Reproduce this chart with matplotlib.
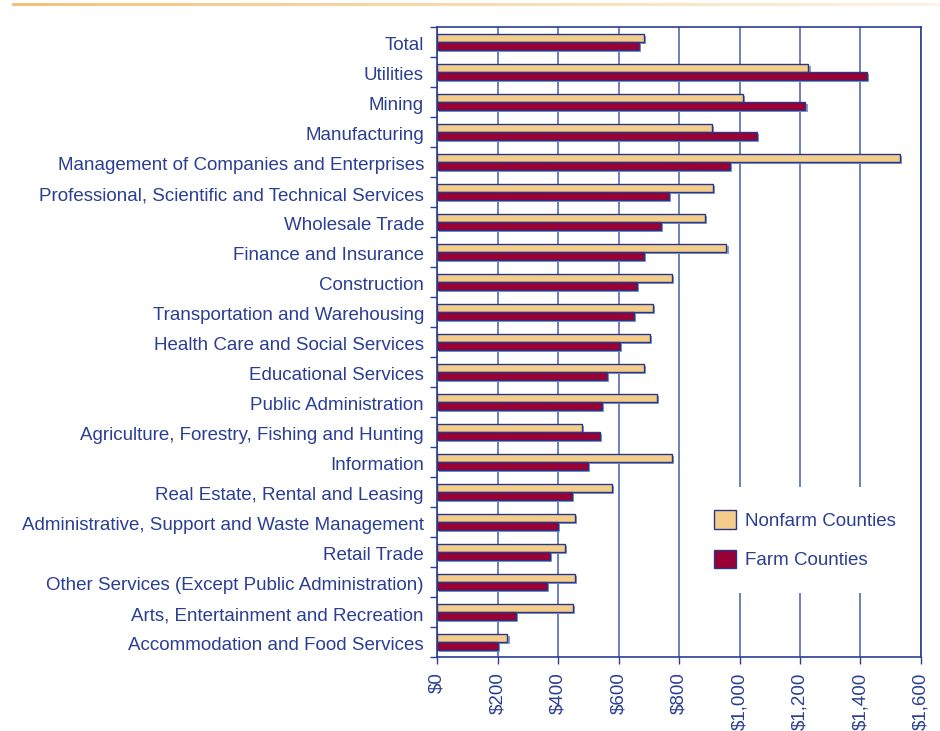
import numpy as np
import matplotlib
matplotlib.use("Agg")
import matplotlib.pyplot as plt
from matplotlib.patches import Patch
from matplotlib.ticker import FuncFormatter, FixedLocator
from matplotlib.colors import LinearSegmentedColormap
from matplotlib.transforms import ScaledTranslation
import matplotlib.patheffects as pe

industries = [
    "Total",
    "Utilities",
    "Mining",
    "Manufacturing",
    "Management of Companies and Enterprises",
    "Professional, Scientific and Technical Services",
    "Wholesale Trade",
    "Finance and Insurance",
    "Construction",
    "Transportation and Warehousing",
    "Health Care and Social Services",
    "Educational Services",
    "Public Administration",
    "Agriculture, Forestry, Fishing and Hunting",
    "Information",
    "Real Estate, Rental and Leasing",
    "Administrative, Support and Waste Management",
    "Retail Trade",
    "Other Services (Except Public Administration)",
    "Arts, Entertainment and Recreation",
    "Accommodation and Food Services",
]
nonfarm = [683, 1228, 1011, 909, 1530, 913, 887, 957, 778, 715, 705,
           683, 728, 479, 778, 578, 455, 422, 455, 450, 233]
farm = [667, 1421, 1218, 1057, 968, 767, 739, 683, 662, 650, 605,
        562, 545, 540, 500, 445, 400, 373, 363, 260, 200]
x_ticks = [0, 200, 400, 600, 800, 1000, 1200, 1400, 1600]

NAVY = "#2a3f92"
EDGE = "#26388a"
GRID = "#6c80bd"
NONFARM_C = "#f4cd8b"
FARM_C = "#990033"

plt.rcParams["font.family"] = ["Liberation Sans", "DejaVu Sans"]
FS = 13.5

fig = plt.figure(figsize=(9.4, 7.31), dpi=100)

# orange rule across the top
rule_ax = fig.add_axes([12 / 940, (731 - 6.2) / 731, 928 / 940, 2.8 / 731])
grad = np.linspace(0, 1, 256).reshape(1, -1)
rule_cmap = LinearSegmentedColormap.from_list("rule", ["#f3c27a", "#f8dcae", "#fdf3e6"])
rule_ax.imshow(grad, aspect="auto", cmap=rule_cmap)
rule_ax.axis("off")

ax = fig.add_axes([437 / 940, 74 / 731, 484 / 940, 630 / 731])
y = np.arange(len(industries))
h = 0.28
shadow = [pe.SimplePatchShadow(offset=(1.5, -1.5), shadow_rgbFace="#8d9cc9", alpha=1), pe.Normal()]
b1 = ax.barh(y - 0.138, nonfarm, height=h, color=NONFARM_C, edgecolor=EDGE, linewidth=1.0,
             label="Nonfarm Counties", zorder=3)
b2 = ax.barh(y + 0.138, farm, height=h, color=FARM_C, edgecolor=EDGE, linewidth=1.0,
             label="Farm Counties", zorder=3)
for r in list(b1) + list(b2):
    r.set_path_effects(shadow)

ax.set_xlim(0, 1600)
ax.set_ylim(len(industries) - 0.5, -0.5)
ax.xaxis.set_major_locator(FixedLocator(x_ticks))
ax.xaxis.set_major_formatter(FuncFormatter(lambda v, p: f"${v:,.0f}"))
ax.grid(axis="x", color=GRID, linewidth=1.4, zorder=0)
ax.set_axisbelow(True)

ax.set_yticks(y)
ax.set_yticklabels(industries)
ax.set_yticks(np.arange(len(industries) + 1) - 0.5, minor=True)
ax.tick_params(axis="y", which="major", length=0, pad=9.4, labelsize=FS, labelcolor=NAVY)
ax.tick_params(axis="y", which="minor", length=5, width=1.0, color=NAVY, direction="out")
ax.tick_params(axis="x", which="major", length=5, width=1.0, color=NAVY, pad=6,
               labelsize=FS, labelcolor=NAVY, labelrotation=90)
shift = ScaledTranslation(0, -2 / 100, fig.dpi_scale_trans)
for lab in ax.get_yticklabels():
    lab.set_transform(lab.get_transform() + shift)
for s in ax.spines.values():
    s.set_color(NAVY)
    s.set_linewidth(1.2)
    s.set_zorder(6)

leg = ax.legend(handles=[Patch(facecolor=NONFARM_C, edgecolor=EDGE, label="Nonfarm Counties"),
                         Patch(facecolor=FARM_C, edgecolor=EDGE, label="Farm Counties")],
                loc="upper left", bbox_to_anchor=(691 / 940, (731 - 486.5) / 731),
                bbox_transform=fig.transFigure, fontsize=FS, frameon=True, fancybox=False,
                framealpha=1, facecolor="white", edgecolor="none", borderpad=1.25,
                borderaxespad=0, handlelength=1.15, handleheight=1.15, handletextpad=0.5,
                labelspacing=1.07)
for t in leg.get_texts():
    t.set_color(NAVY)
leg.set_zorder(5)

fig.savefig("out.png", dpi=100)
